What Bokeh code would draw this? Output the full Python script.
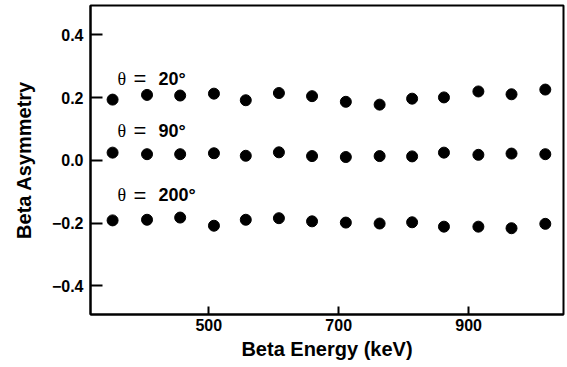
from bokeh.plotting import figure
from bokeh.models import ColumnDataSource, FixedTicker, CustomJSTickFormatter
from bokeh.core.properties import value
from bokeh.embed import file_html
from bokeh.resources import INLINE

# ---- data ----
energy = [352, 405, 456, 508, 557, 608, 659, 711, 763, 813, 862, 915, 966, 1018]
asym_20 = [0.194, 0.209, 0.207, 0.213, 0.192, 0.215, 0.205, 0.187, 0.178, 0.197, 0.201, 0.220, 0.211, 0.226]
asym_90 = [0.025, 0.020, 0.020, 0.023, 0.015, 0.026, 0.014, 0.011, 0.014, 0.013, 0.025, 0.018, 0.022, 0.020]
asym_200 = [-0.191, -0.189, -0.182, -0.208, -0.189, -0.184, -0.194, -0.198, -0.201, -0.197, -0.211, -0.211, -0.216, -0.202]
angle_labels = ["20°", "90°", "200°"]
x_ticks = [500, 700, 900]
y_ticks = [-0.4, -0.2, 0.0, 0.2, 0.4]

SANS = "Liberation Sans"
SERIF = "Liberation Serif"

p = figure(width=565, height=367, x_range=(318, 1046), y_range=(-0.491, 0.494),
           output_backend="svg", toolbar_location=None,
           min_border_left=90, min_border_right=2, min_border_top=5, min_border_bottom=53)
p.background_fill_color = "white"
p.border_fill_color = "white"
p.grid.visible = False
p.outline_line_color = "black"
p.outline_line_width = 2

series = [asym_20, asym_90, asym_200]
for s in series:
    src = ColumnDataSource(dict(x=energy, y=s))
    p.scatter("x", "y", source=src, size=11, color="black")

# theta labels, anchored on each series' first point
lab = ColumnDataSource(dict(
    x=[energy[0]] * 3,
    y=[s[0] for s in series],
    txt=angle_labels,
    th=["θ"] * 3,
    eq=["="] * 3,
    yo=[-21, -22, -25],
))
p.text("x", "y", text="th", source=lab, x_offset=5, y_offset="yo",
       text_font=value(SERIF), text_font_size="18px", text_baseline="alphabetic")
p.text("x", "y", text="eq", source=lab, x_offset=21, y_offset="yo",
       text_font=value(SANS), text_font_size="22px", text_baseline="alphabetic")
p.text("x", "y", text="txt", source=lab, x_offset=46, y_offset="yo",
       text_font=value(SANS), text_font_style="bold", text_font_size="18px",
       text_baseline="alphabetic")

for ax in (p.xaxis[0], p.yaxis[0]):
    ax.axis_line_width = 2
    ax.axis_line_color = "black"
    ax.major_tick_line_width = 2
    ax.major_tick_line_color = "black"
    ax.major_tick_out = 0
    ax.minor_tick_line_color = None
    ax.major_label_text_font = SANS
    ax.major_label_text_font_style = "bold"
    ax.major_label_text_font_size = "16px"
    ax.major_label_text_color = "black"
    ax.axis_label_text_font = SANS
    ax.axis_label_text_font_style = "bold"
    ax.axis_label_text_font_size = "20px"
    ax.axis_label_text_color = "black"

p.xaxis[0].ticker = FixedTicker(ticks=x_ticks)
p.xaxis[0].major_tick_in = 8
p.xaxis[0].major_label_standoff = 4
p.xaxis[0].axis_label = "Beta Energy (keV)"
p.xaxis[0].axis_label_standoff = 4

p.yaxis[0].ticker = FixedTicker(ticks=y_ticks)
p.yaxis[0].major_tick_in = 12
p.yaxis[0].major_label_standoff = 7
p.yaxis[0].formatter = CustomJSTickFormatter(code="""
    return tick < 0 ? "\\u2212" + Math.abs(tick).toFixed(1) : tick.toFixed(1);
""")
p.yaxis[0].axis_label = "Beta Asymmetry"
p.yaxis[0].axis_label_standoff = 14

open("out.html", "w").write(file_html(p, INLINE))
